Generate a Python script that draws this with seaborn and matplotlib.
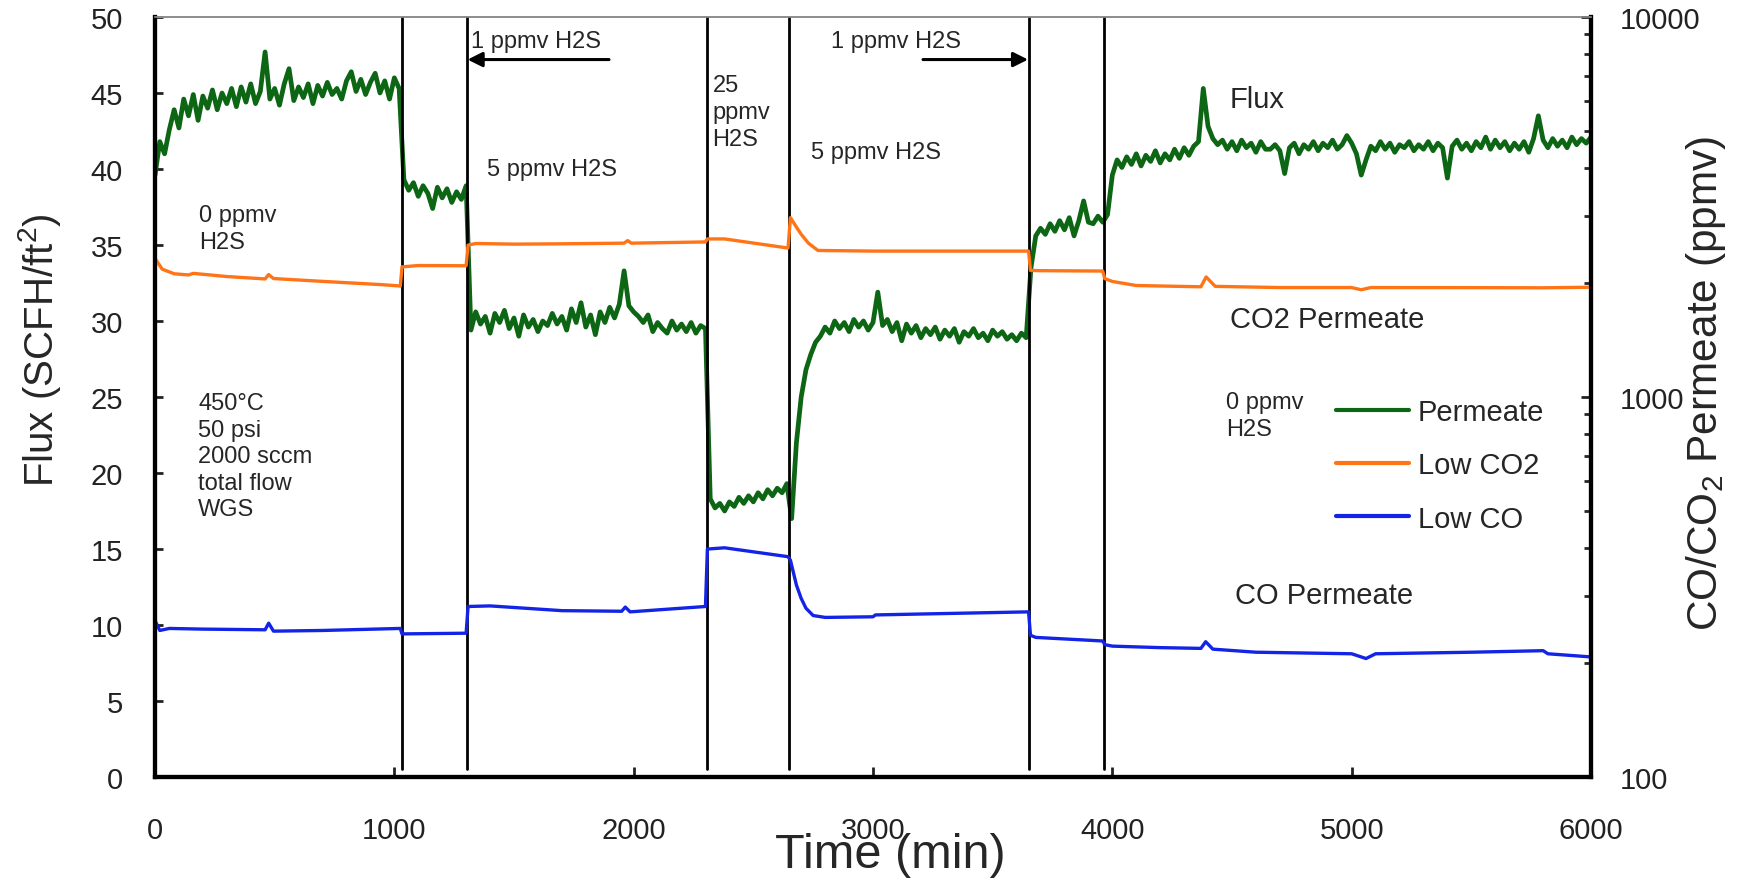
import numpy as np
import pandas as pd
import matplotlib
matplotlib.use("Agg")
import matplotlib.pyplot as plt
from matplotlib.lines import Line2D
import seaborn as sns

# --------------------------
# Dados
# --------------------------
# Fluxo de permeado (SCFH/ft2), amostrado a cada 20 min dentro de cada trecho
passo = 20
inicio_trechos = [0, 1040, 1320, 2320, 2660, 3660, 3980]

fluxo_a = [39.6, 41.8, 41.0, 42.6, 43.9, 42.7, 44.6, 43.5, 44.9, 43.2, 44.8, 44.0, 45.2,
           43.9, 45.0, 44.3, 45.3, 44.1, 45.4, 44.4, 45.6, 44.3, 45.1, 47.7, 44.6, 45.3,
           44.2, 45.6, 46.6, 44.5, 45.4, 44.7, 45.6, 44.3, 45.5, 44.8, 45.7, 44.9, 45.3,
           44.6, 45.8, 46.4, 45.1, 45.9, 44.9, 45.7, 46.3, 45.0, 45.8, 44.6, 46.0, 45.3]
fluxo_b = [39.3, 38.6, 39.1, 38.2, 38.9, 38.4, 37.4, 38.8, 38.1, 38.7, 37.8, 38.5, 38.0, 38.9]
fluxo_c = [29.4, 30.6, 29.8, 30.3, 29.2, 30.5, 29.9, 30.7, 29.5, 30.2, 29.0, 30.4, 29.6,
           30.1, 29.3, 30.0, 29.7, 30.5, 29.8, 30.3, 29.4, 30.8, 29.9, 31.2, 29.6, 30.4,
           29.1, 30.6, 29.9, 30.9, 30.2, 31.1, 33.3, 31.0, 30.6, 30.3, 29.9, 30.4, 29.3,
           29.9, 29.5, 29.2, 30.0, 29.4, 29.8, 29.3, 29.9, 29.2, 29.7, 29.5]
fluxo_d = [18.3, 17.7, 18.0, 17.5, 18.1, 17.8, 18.4, 18.0, 18.5, 18.1, 18.7, 18.3, 18.9,
           18.5, 19.0, 18.7, 19.3]
fluxo_e = [17.0, 22.0, 25.0, 26.8, 27.8, 28.6, 29.0, 29.6, 29.2, 30.0, 29.5, 29.9, 29.3,
           30.1, 29.6, 30.0, 29.4, 29.9, 31.9, 29.7, 30.1, 29.3, 29.9, 28.7, 29.8, 29.2,
           29.7, 28.9, 29.5, 29.1, 29.6, 28.8, 29.4, 29.0, 29.5, 28.6, 29.3, 29.0, 29.5,
           28.9, 29.2, 28.7, 29.4, 29.0, 29.3, 28.8, 29.1, 28.7, 29.2, 28.9]
fluxo_f = [33.5, 35.6, 36.1, 35.7, 36.4, 35.9, 36.6, 36.0, 36.8, 35.6, 36.6, 37.9, 36.5,
           36.4, 36.9, 36.5]
fluxo_g = [37.0, 39.6, 40.6, 40.1, 40.8, 40.3, 41.0, 40.2, 40.9, 40.5, 41.2, 40.4, 41.0,
           40.6, 41.3, 40.7, 41.4, 40.9, 41.5, 41.8, 45.3, 42.8, 42.0, 41.6, 41.9, 41.3,
           41.8, 41.2, 41.9, 41.4, 41.7, 41.1, 41.8, 41.3, 41.3, 41.6, 41.2, 39.7, 41.4,
           41.7, 41.0, 41.6, 41.3, 41.8, 41.2, 41.7, 41.4, 41.9, 41.3, 41.6, 42.2, 41.7,
           41.0, 39.6, 40.6, 41.5, 41.2, 41.8, 41.3, 41.7, 41.1, 41.6, 41.4, 41.8, 41.2,
           41.6, 41.3, 41.8, 41.2, 41.7, 41.4, 39.4, 41.5, 41.9, 41.3, 41.7, 41.2, 41.8,
           41.4, 42.1, 41.3, 41.9, 41.4, 41.8, 41.2, 41.7, 41.3, 41.8, 41.1, 42.0, 43.5,
           41.9, 41.4, 42.0, 41.5, 41.9, 41.4, 42.1, 41.6, 42.0, 41.7, 42.1]
trechos_fluxo = [fluxo_a, fluxo_b, fluxo_c, fluxo_d, fluxo_e, fluxo_f, fluxo_g]

# CO2 no permeado (ppmv, eixo direito)
co2_tempo = [0, 30, 80, 140, 160, 300, 460, 475, 495, 700, 950, 1025,
             1032, 1100, 1300,
             1308, 1340, 1500, 1700, 1960, 1975, 1990, 2300,
             2308, 2380, 2645,
             2655, 2680, 2700, 2730, 2770, 3000, 3650,
             3658, 3700, 3960,
             3968, 4000, 4100, 4370, 4392, 4430, 4700, 5000, 5040, 5080, 5500, 5800, 6000]
co2_ppmv = [2317, 2170, 2110, 2095, 2115, 2075, 2045, 2100, 2050, 2015, 1975, 1959,
            2200, 2218, 2215,
            2510, 2535, 2525, 2530, 2540, 2580, 2540, 2559,
            2606, 2606, 2466,
            2965, 2800, 2680, 2540, 2430, 2421, 2421,
            2153, 2150, 2145,
            2050, 2014, 1965, 1950, 2070, 1955, 1941, 1941, 1915, 1941, 1940, 1938, 1945]

# CO no permeado (ppmv, eixo direito)
co_tempo = [0, 20, 60, 200, 460, 475, 495, 700, 1025,
            1032, 1300,
            1308, 1400, 1700, 1950, 1965, 1985, 2300,
            2308, 2380, 2645,
            2655, 2680, 2700, 2720, 2750, 2800, 3000, 3010, 3650,
            3658, 3680, 3960,
            3968, 4000, 4200, 4370, 4390, 4420, 4600, 5000, 5060, 5100, 5500, 5800, 5820, 6000]
co_ppmv = [258, 243, 246, 245, 244, 254, 242, 243, 246,
           238, 239,
           281, 282, 274, 273, 280, 272, 281,
           398, 401, 380,
           372, 320, 295, 278, 266, 263, 264, 267, 272,
           236, 233, 228,
           223, 221, 219, 218, 227, 217, 213, 211, 205, 211, 213, 215, 211, 207]

# Mudanças de condição (min)
mudancas = [1031, 1304, 2306, 2650, 3651, 3965]

verde = "#0c6614"
laranja = "#ff7417"
azul = "#1424e6"

# --------------------------
# Montagem dos DataFrames
# --------------------------
tempos, valores = [], []
for t0, vals in zip(inicio_trechos, trechos_fluxo):
    tempos.extend(t0 + passo * np.arange(len(vals)))
    valores.extend(vals)
df_fluxo = pd.DataFrame({"tempo": tempos, "fluxo": valores})
df_co2 = pd.DataFrame({"tempo": co2_tempo, "ppmv": co2_ppmv})
df_co = pd.DataFrame({"tempo": co_tempo, "ppmv": co_ppmv})

# --------------------------
# Gráfico
# --------------------------
sns.set_style("ticks")
plt.rcParams["font.family"] = ["Liberation Sans", "DejaVu Sans"]
plt.rcParams["mathtext.fontset"] = "custom"
plt.rcParams["mathtext.rm"] = "Liberation Sans"
plt.rcParams["mathtext.it"] = "Liberation Sans"

fig = plt.figure(figsize=(17.39, 8.87), dpi=100)
ax = fig.add_axes([155 / 1739, 1 - 778 / 887, 1436 / 1739, 760 / 887])
ax2 = ax.twinx()

sns.lineplot(data=df_fluxo, x="tempo", y="fluxo", ax=ax, color=verde, lw=3.4,
             estimator=None, sort=False)
ax2.set_yscale("log")
sns.lineplot(data=df_co2, x="tempo", y="ppmv", ax=ax2, color=laranja, lw=2.4,
             estimator=None, sort=False)
sns.lineplot(data=df_co, x="tempo", y="ppmv", ax=ax2, color=azul, lw=2.4,
             estimator=None, sort=False)

for m in mudancas:
    ax.axvline(m, ymin=0.01, ymax=1, color="black", lw=2.0, zorder=5)

ax.set_xlim(0, 6000)
ax.set_ylim(0, 50)
ax.set_xticks(range(0, 6001, 1000))
ax.set_yticks(range(0, 51, 5))
ax2.set_ylim(100, 10000)
ax2.set_yticks([100, 1000, 10000])
ax2.set_yticklabels(["100", "1000", "10000"])

ax.tick_params(axis="y", direction="in", length=6, width=2, labelsize=21, pad=23,
               colors="#222222")
ax.tick_params(axis="x", direction="in", length=7, width=2, labelsize=21, pad=28,
               colors="#222222")
ax2.tick_params(axis="y", which="major", direction="in", length=7, width=2,
                labelsize=21, pad=21, colors="#222222")
ax2.tick_params(axis="y", which="minor", direction="in", length=5, width=2)

for a in (ax, ax2):
    for lado in ("left", "bottom", "right"):
        a.spines[lado].set_linewidth(3)
        a.spines[lado].set_color("black")
    a.spines["top"].set_linewidth(1.2)
    a.spines["top"].set_color("#8c8c8c")

ax.set_xlabel("Time (min)", fontsize=35)
ax.xaxis.set_label_coords(0.512, -0.073)
ax.set_ylabel("Flux (SCFH/ft$^2$)", fontsize=29)
ax.yaxis.set_label_coords(-0.064, 0.563)
ax2.set_ylabel("CO/CO$_2$ Permeate (ppmv)", fontsize=30.5)
ax2.yaxis.set_label_coords(1.065, 0.519)

# --------------------------
# Anotações
# --------------------------
fs = 17
ax.text(1320, 48.4, "1 ppmv H2S", fontsize=fs, va="center")
ax.annotate("", xy=(1306, 47.2), xytext=(1897, 47.2),
            arrowprops=dict(arrowstyle="-|>", color="black", lw=2.2, mutation_scale=22,
                            shrinkA=0, shrinkB=0))
ax.text(2825, 48.4, "1 ppmv H2S", fontsize=fs, va="center")
ax.annotate("", xy=(3648, 47.2), xytext=(3209, 47.2),
            arrowprops=dict(arrowstyle="-|>", color="black", lw=2.2, mutation_scale=22,
                            shrinkA=0, shrinkB=0))
ax.text(1387, 40.0, "5 ppmv H2S", fontsize=fs, va="center")
ax.text(2741, 41.1, "5 ppmv H2S", fontsize=fs, va="center")
ax.text(2329, 43.75, "25\nppmv\nH2S", fontsize=fs, va="center", linespacing=1.3)
ax.text(184, 36.1, "0 ppmv\nH2S", fontsize=fs, va="center", linespacing=1.3)
ax.text(180, 21.1, "450°C\n50 psi\n2000 sccm\ntotal flow\nWGS", fontsize=fs,
        va="center", linespacing=1.27)
ax.text(4475, 23.8, "0 ppmv\nH2S", fontsize=fs, va="center", linespacing=1.3)
ax.text(4492, 44.6, "Flux", fontsize=21, va="center")
ax.text(4492, 30.1, "CO2 Permeate", fontsize=21, va="center")
ax.text(4513, 12.0, "CO Permeate", fontsize=21, va="center")

handles = [Line2D([], [], color=verde, lw=3), Line2D([], [], color=laranja, lw=3),
           Line2D([], [], color=azul, lw=3)]
ax2.legend(handles, ["Permeate", "Low CO2", "Low CO"], loc="upper left",
           bbox_to_anchor=(0.8224, 0.499), frameon=False, fontsize=21,
           handlelength=2.5, handletextpad=0.3, labelspacing=0.87, borderaxespad=0,
           borderpad=0)

fig.savefig("out.png", dpi=100)
